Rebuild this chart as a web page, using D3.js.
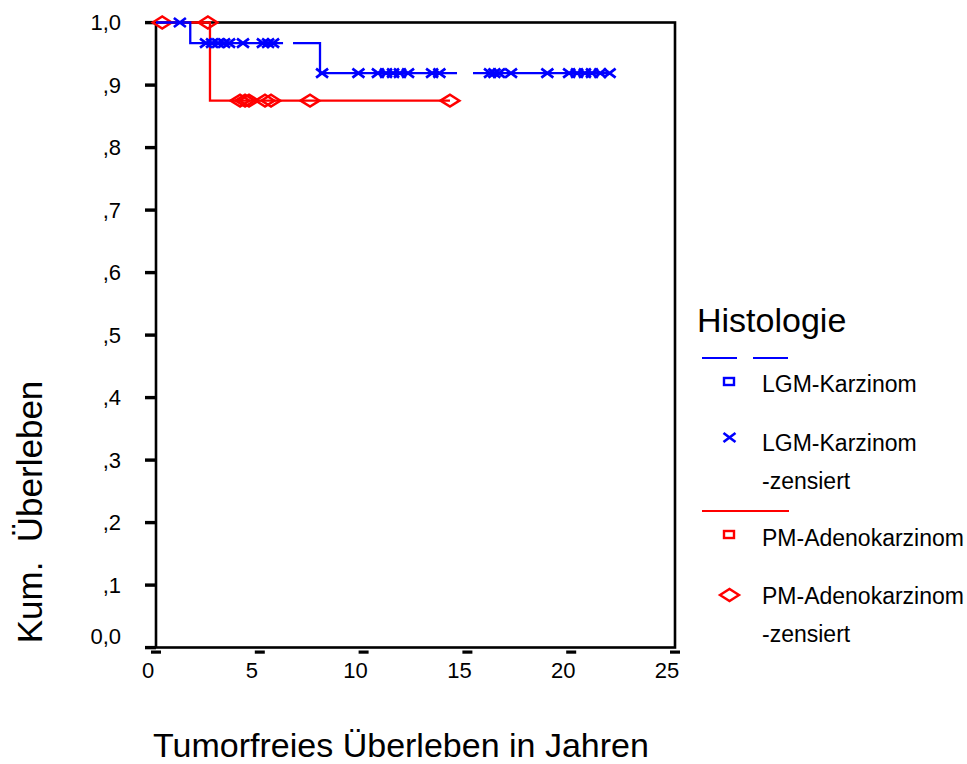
<!DOCTYPE html>
<html>
<head>
<meta charset="utf-8">
<script src="https://cdn.jsdelivr.net/npm/d3@7"></script>
<style>
  html, body { margin: 0; padding: 0; background: #fff; }
  svg { display: block; font-family: "Liberation Sans", Arial, sans-serif; }
</style>
</head>
<body>
<svg id="chart" width="967" height="764"></svg>
<script>
// Kaplan-Meier estimate of tumour-free survival by histology
const xTicks = [0, 5, 10, 15, 20, 25];
const xTickLabels = ["0", "5", "10", "15", "20", "25"];
const yTicks = [0, 0.1, 0.2, 0.3, 0.4, 0.5, 0.6, 0.7, 0.8, 0.9, 1.0];
const yTickLabels = ["0,0", ",1", ",2", ",3", ",4", ",5", ",6", ",7", ",8", ",9", "1,0"];

// LGM-Karzinom: event times with the survival level that follows each step
const lgmStepTimes = [0, 1.65, 7.9];
const lgmSurvival = [1.0, 0.967, 0.919];
const lgmLastTime = 21.85;
const lgmCensored = [1.15, 2.41, 2.70, 2.99, 3.28, 3.52, 4.19, 5.15, 5.40, 5.64,
  8.0, 9.75, 10.69, 11.08, 11.42, 11.75, 12.14, 13.3, 13.65,
  16.09, 16.3, 16.52, 17.1, 18.85, 19.9, 20.28, 20.66, 21.0, 21.4, 21.85];
const lgmLineGaps = [[6.12, 6.6], [14.5, 15.27]];

// PM-Adenokarzinom
const pmStepTimes = [0, 2.6];
const pmSurvival = [1.0, 0.875];
const pmLastTime = 14.16;
const pmCensored = [0.3, 2.5, 4.05, 4.29, 4.48, 5.25, 5.54, 7.42, 14.16];

const legendTitle = "Histologie";
const legendLabels = ["LGM-Karzinom", "LGM-Karzinom", "-zensiert", "PM-Adenokarzinom", "PM-Adenokarzinom", "-zensiert"];
const xTitle = "Tumorfreies Überleben in Jahren";
const yTitle = "Kum.  Überleben";

const BLUE = "#0000ff", RED = "#ff0000";
const FONT = "Liberation Sans, Arial, sans-serif";

const svg = d3.select("#chart");
const x = d3.scaleLinear().domain([0, 25]).range([156, 675]);
const y = d3.scaleLinear().domain([0, 1]).range([647.5, 22.5]);

// plot frame
svg.append("rect")
  .attr("x", x(0)).attr("y", y(1))
  .attr("width", x(25) - x(0)).attr("height", y(0) - y(1))
  .attr("fill", "none").attr("stroke", "#000").attr("stroke-width", 2.6);

// y axis labels
const yAxis = svg.append("g")
  .attr("transform", `translate(${x(0)},0)`)
  .call(d3.axisLeft(y).tickValues(yTicks)
    .tickFormat((d, i) => yTickLabels[i]).tickSize(0).tickPadding(35));
yAxis.select(".domain").remove();
yAxis.attr("font-size", 22).attr("font-family", FONT);
yAxis.selectAll("text")
  .attr("fill", "#000")
  .attr("dy", (d) => d === 0 ? "-0.2em" : "0.34em");
// SPSS-style tick dashes
svg.append("g").selectAll("rect").data(yTicks).join("rect")
  .attr("x", x(0) - 11).attr("y", (d) => y(d) - 1.6)
  .attr("width", 11).attr("height", 3.4).attr("fill", "#000");

// x axis labels
const xAxis = svg.append("g")
  .attr("transform", `translate(0,${y(0)})`)
  .call(d3.axisBottom(x).tickValues(xTicks)
    .tickFormat((d, i) => xTickLabels[i]).tickSize(0));
xAxis.select(".domain").remove();
xAxis.attr("font-size", 22).attr("font-family", FONT);
xAxis.selectAll("text")
  .attr("fill", "#000")
  .attr("x", -8.5).attr("y", 30.5).attr("dy", 0);
svg.append("g").selectAll("rect").data(xTicks).join("rect")
  .attr("x", (d) => x(d) - 5).attr("y", y(0) + 3)
  .attr("width", 10).attr("height", 3.2).attr("fill", "#000");

// axis titles
svg.append("text")
  .attr("x", 401).attr("y", 757)
  .attr("text-anchor", "middle").attr("font-size", 34).attr("fill", "#000")
  .text(xTitle);
svg.append("text")
  .attr("transform", "translate(42,512) rotate(-90)")
  .attr("text-anchor", "middle").attr("font-size", 35).attr("fill", "#000")
  .style("white-space", "pre")
  .text(yTitle);

// survival helpers
function levelAt(times, surv, t) {
  let s = surv[0];
  times.forEach((tt, i) => { if (tt <= t) s = surv[i]; });
  return s;
}
function stepPoints(times, surv, last) {
  const pts = times.map((t, i) => [t, surv[i]]);
  pts.push([last, surv[surv.length - 1]]);
  return pts;
}
const line = d3.line().x((d) => x(d[0])).y((d) => y(d[1])).curve(d3.curveStepAfter);

// mask for interruptions in the LGM curve
const defs = svg.append("defs");
const mask = defs.append("mask").attr("id", "lgmGaps");
mask.append("rect").attr("x", 0).attr("y", 0).attr("width", 967).attr("height", 764).attr("fill", "#fff");
mask.selectAll("rect.gap").data(lgmLineGaps).join("rect").attr("class", "gap")
  .attr("x", (d) => x(d[0])).attr("width", (d) => x(d[1]) - x(d[0]))
  .attr("y", 0).attr("height", 764).attr("fill", "#000");

// PM-Adenokarzinom curve
svg.append("path")
  .attr("d", line(stepPoints(pmStepTimes, pmSurvival, pmLastTime)))
  .attr("fill", "none").attr("stroke", RED).attr("stroke-width", 2.3);
const diamond = (cx, cy) => `M${cx - 9.5},${cy}L${cx},${cy - 6}L${cx + 9.5},${cy}L${cx},${cy + 6}Z`;
svg.append("g").selectAll("path").data(pmCensored).join("path")
  .attr("d", (t) => diamond(x(t), y(levelAt(pmStepTimes, pmSurvival, t))))
  .attr("fill", "none").attr("stroke", RED).attr("stroke-width", 2.4);

// LGM-Karzinom curve
svg.append("path")
  .attr("d", line(stepPoints(lgmStepTimes, lgmSurvival, lgmLastTime)))
  .attr("mask", "url(#lgmGaps)")
  .attr("fill", "none").attr("stroke", BLUE).attr("stroke-width", 2.3);
const cross = (cx, cy) => `M${cx - 6},${cy - 4.5}L${cx + 6},${cy + 4.5}M${cx - 6},${cy + 4.5}L${cx + 6},${cy - 4.5}`;
svg.append("g").selectAll("path").data(lgmCensored).join("path")
  .attr("d", (t) => cross(x(t), y(levelAt(lgmStepTimes, lgmSurvival, t))))
  .attr("fill", "none").attr("stroke", BLUE).attr("stroke-width", 2.7);

// legend
const lg = svg.append("g");
lg.append("text").attr("x", 697).attr("y", 332).attr("font-size", 34).attr("fill", "#000").text(legendTitle);
lg.append("line").attr("x1", 702).attr("x2", 789).attr("y1", 358).attr("y2", 358)
  .attr("stroke", BLUE).attr("stroke-width", 2).attr("stroke-dasharray", "35,16");
lg.append("line").attr("x1", 702).attr("x2", 789).attr("y1", 511).attr("y2", 511)
  .attr("stroke", RED).attr("stroke-width", 2);
lg.append("rect").attr("x", 724).attr("y", 378).attr("width", 10).attr("height", 7)
  .attr("fill", "none").attr("stroke", BLUE).attr("stroke-width", 2.4);
lg.append("path").attr("d", cross(729.5, 437.5)).attr("stroke", BLUE).attr("stroke-width", 2.7).attr("fill", "none");
lg.append("rect").attr("x", 724).attr("y", 531).attr("width", 10).attr("height", 7)
  .attr("fill", "none").attr("stroke", RED).attr("stroke-width", 2.4);
lg.append("path").attr("d", diamond(729.5, 595)).attr("stroke", RED).attr("stroke-width", 2.4).attr("fill", "none");
const legendBaselines = [392, 451, 489, 546, 604, 642];
lg.selectAll("text.item").data(legendLabels).join("text").attr("class", "item")
  .attr("x", 762).attr("y", (d, i) => legendBaselines[i])
  .attr("font-size", 23).attr("fill", "#000").text((d) => d);
</script>
</body>
</html>
